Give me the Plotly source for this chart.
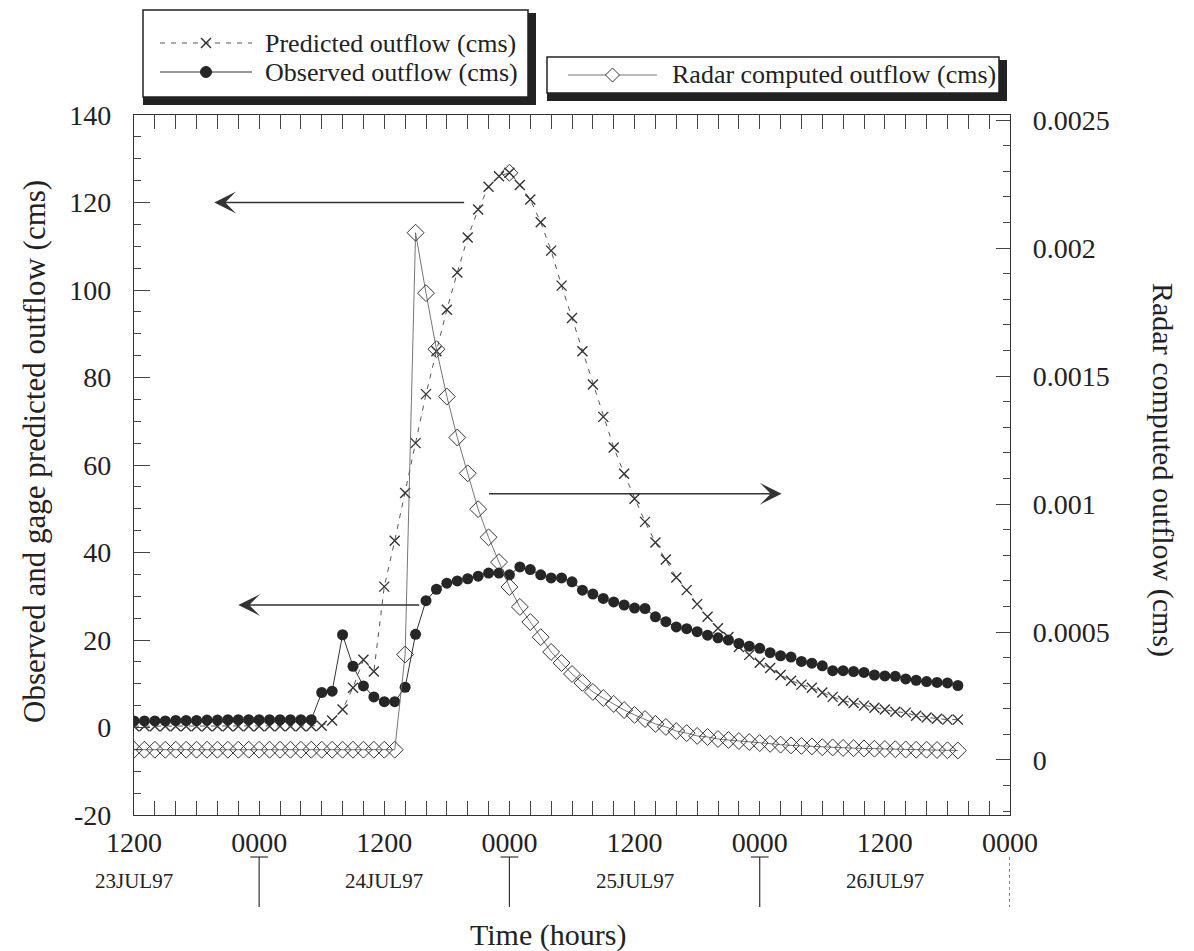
import plotly.graph_objects as go

# Hours after 1200 23JUL97
hours = list(range(80))

observed_cms = [
    1.5, 1.5, 1.5, 1.5, 1.6, 1.6, 1.6, 1.7, 1.7, 1.8,
    1.8, 1.8, 1.8, 1.8, 1.8, 1.8, 1.8, 1.8, 8.0, 8.3,
    21.2, 14.0, 9.5, 7.0, 5.9, 5.9, 9.2, 21.3, 29.0, 31.6,
    33.0, 33.5, 34.0, 34.6, 35.3, 35.3, 34.9, 36.7, 36.1, 34.9,
    34.2, 34.2, 33.3, 31.4, 30.5, 29.5, 28.7, 28.0, 27.3, 27.2,
    25.3, 24.2, 23.0, 22.6, 21.9, 21.1, 20.5, 20.0, 19.2, 18.6,
    18.1, 17.1, 16.4, 16.1, 15.1, 14.7, 14.1, 13.0, 13.0, 12.8,
    12.6, 12.0, 11.8, 11.7, 11.1, 10.8, 10.5, 10.3, 10.2, 9.6,
]

predicted_cms = [
    0.3, 0.3, 0.3, 0.3, 0.3, 0.3, 0.3, 0.3, 0.3, 0.3,
    0.3, 0.3, 0.3, 0.3, 0.3, 0.3, 0.3, 0.3, 0.4, 1.6,
    4.1, 9.1, 15.5, 12.8, 32.2, 42.7, 53.6, 65.0, 76.2, 86.0,
    95.5, 104.0, 112.0, 118.4, 123.6, 126.0, 126.8, 124.0, 120.7, 115.5,
    109.0, 101.0, 93.6, 86.0, 78.4, 71.0, 64.0, 58.0, 52.3, 47.0,
    42.3, 38.4, 34.3, 31.4, 28.2, 25.3, 22.7, 20.7, 18.4, 16.6,
    14.8, 13.6, 12.0, 10.7, 9.8, 9.1, 8.0, 7.0, 6.1, 5.6,
    5.0, 4.5, 4.1, 3.6, 3.4, 2.7, 2.3, 2.0, 1.8, 1.8,
]

radar_cms = [
    0.00004, 0.00004, 0.00004, 0.00004, 0.00004, 0.00004, 0.00004, 0.00004, 0.00004, 0.00004,
    0.00004, 0.00004, 0.00004, 0.00004, 0.00004, 0.00004, 0.00004, 0.00004, 0.00004, 0.00004,
    0.00004, 0.00004, 0.00004, 0.00004, 0.00004, 0.00004, 0.000412, 0.00206, 0.001824, 0.001605,
    0.00142, 0.00126, 0.00112, 0.00098, 0.00087, 0.000773, 0.000676, 0.000598, 0.000539, 0.00048,
    0.000422, 0.000379, 0.000336, 0.000301, 0.000266, 0.000242, 0.000219, 0.000195, 0.000176, 0.00016,
    0.000141, 0.000129, 0.000113, 0.000105, 0.000094, 0.00009, 0.000082, 0.000078, 0.000074, 0.00007,
    0.000066, 0.000063, 0.00006, 0.000057, 0.000055, 0.000053, 0.00005, 0.000049, 0.000047, 0.000046,
    0.000045, 0.000044, 0.000043, 0.000042, 0.000041, 0.00004, 0.00004, 0.000039, 0.000038, 0.000037,
]

series_names = ["Predicted outflow (cms)", "Observed outflow (cms)",
                "Radar computed outflow (cms)"]

# Time axis labelling: hour clock every 12 h, calendar day under each noon
clock_hours = [0, 12, 24, 36, 48, 60, 72, 84]
clock_labels = ["1200", "0000", "1200", "0000", "1200", "0000", "1200", "0000"]
day_hours = [0, 24, 48, 72]
day_labels = ["23JUL97", "24JUL97", "25JUL97", "26JUL97"]
midnight_hours = [12, 36, 60, 84]

flow_ticks = [-20, 0, 20, 40, 60, 80, 100, 120, 140]
flow_tick_labels = ["-20", "0", "20", "40", "60", "80", "100", "120", "140"]
radar_ticks = [0, 0.0005, 0.001, 0.0015, 0.002, 0.0025]
radar_tick_labels = ["0", "0.0005", "0.001", "0.0015", "0.002", "0.0025"]

SERIF = "Liberation Serif, Times New Roman, serif"
INK = "#222222"

# Figure geometry (px) used to place paper-referenced decorations
W, H = 1194, 951
ML, MR, MT, MB = 134, 184, 115, 136
PW, PH = W - ML - MR, H - MT - MB


def px_x(px):
    return (px - ML) / PW


def px_y(py):
    return (H - MB - py) / PH


PRED_LINE = dict(color="#555555", width=1, dash="5px,6px")
PRED_MARK = dict(symbol="x-thin-open", size=10, color="#333333",
                 line=dict(width=1.4, color="#333333"))
OBS_LINE = dict(color="#333333", width=1)
OBS_MARK = dict(symbol="circle", size=11, color="#262626")
RAD_LINE = dict(color="#666666", width=0.9)
RAD_MARK = dict(symbol="diamond-open", size=13, color="#333333",
                line=dict(width=1, color="#333333"))

fig = go.Figure()
fig.add_trace(go.Scatter(x=hours, y=predicted_cms, name=series_names[0],
                         mode="lines+markers", line=PRED_LINE, marker=PRED_MARK))
fig.add_trace(go.Scatter(x=hours, y=observed_cms, name=series_names[1],
                         mode="lines+markers", line=OBS_LINE, marker=OBS_MARK))
fig.add_trace(go.Scatter(x=hours, y=radar_cms, name=series_names[2], yaxis="y2",
                         mode="lines+markers", line=RAD_LINE, marker=RAD_MARK))

# open diamond flagging the crest of the predicted hydrograph
peak_i = max(range(len(predicted_cms)), key=lambda i: predicted_cms[i])
fig.add_trace(go.Scatter(x=[hours[peak_i]], y=[predicted_cms[peak_i]], mode="markers",
                         hoverinfo="skip", marker=RAD_MARK))

shapes = []
annotations = []

# legend frames with heavy drop shadow on the lower/right edges
for (x0, y0, x1, y1) in [(143, 10, 528, 97), (547, 57, 999, 93)]:
    shapes.append(dict(type="rect", xref="paper", yref="paper",
                       x0=px_x(x0), x1=px_x(x1 + 8), y0=px_y(y1 + 8), y1=px_y(y0 + 3),
                       fillcolor="#222222", line=dict(width=0), layer="above"))
    shapes.append(dict(type="rect", xref="paper", yref="paper",
                       x0=px_x(x0), x1=px_x(x1), y0=px_y(y1), y1=px_y(y0),
                       fillcolor="white", line=dict(color="#222222", width=1.5),
                       layer="above"))


def legend_row(x_line0, x_line1, x_text, y, line_style, marker, name):
    xm = (x_line0 + x_line1) / 2
    shapes.append(dict(type="line", xref="paper", yref="paper",
                       x0=px_x(x_line0), x1=px_x(x_line1), y0=px_y(y), y1=px_y(y),
                       line=dict(color=line_style["color"], width=line_style["width"],
                                 dash=line_style.get("dash", "solid")), layer="above"))
    r = 5.5
    if marker == "x":
        for s in (1, -1):
            shapes.append(dict(type="line", xref="paper", yref="paper",
                               x0=px_x(xm - 5), x1=px_x(xm + 5),
                               y0=px_y(y - 5 * s), y1=px_y(y + 5 * s),
                               line=dict(color="#333333", width=1.4), layer="above"))
    elif marker == "circle":
        shapes.append(dict(type="circle", xref="paper", yref="paper",
                           x0=px_x(xm - r), x1=px_x(xm + r), y0=px_y(y + r), y1=px_y(y - r),
                           fillcolor="#262626", line=dict(color="#262626", width=1),
                           layer="above"))
    else:
        d = 7
        path = "M {a},{b} L {c},{e} L {f},{b} L {c},{g} Z".format(
            a=px_x(xm - d), b=px_y(y), c=px_x(xm), e=px_y(y - d),
            f=px_x(xm + d), g=px_y(y + d))
        shapes.append(dict(type="path", xref="paper", yref="paper", path=path,
                           fillcolor="white", line=dict(color="#333333", width=1),
                           layer="above"))
    annotations.append(dict(x=px_x(x_text), y=px_y(y), xref="paper", yref="paper",
                            text=name, showarrow=False, xanchor="left", yanchor="middle",
                            font=dict(family=SERIF, size=26, color=INK)))


legend_row(160, 252, 263, 43, PRED_LINE, "x", series_names[0])
legend_row(160, 252, 263, 72, OBS_LINE, "circle", series_names[1])
legend_row(568, 657, 670, 75, RAD_LINE, "diamond", series_names[2])

# day separators below the time axis
for h in midnight_hours:
    last = h == midnight_hours[-1]
    shapes.append(dict(type="line", xref="x", yref="paper", x0=h, x1=h,
                       y0=px_y(857), y1=px_y(907),
                       line=dict(color="#333333", width=1.2,
                                 dash="dot" if last else "solid")))
    if not last:
        shapes.append(dict(type="line", xref="x", yref="paper",
                           x0=h - 0.85, x1=h + 0.85, y0=px_y(857), y1=px_y(857),
                           line=dict(color="#333333", width=1.2)))

for h, lab in zip(day_hours, day_labels):
    annotations.append(dict(x=h, y=px_y(881), xref="x", yref="paper", text=lab,
                            xanchor="center", yanchor="middle", showarrow=False,
                            font=dict(family=SERIF, size=21, color=INK)))

annotations.append(dict(x=px_x(548), y=px_y(935), xref="paper", yref="paper",
                        text="Time (hours)", showarrow=False,
                        xanchor="center", yanchor="middle",
                        font=dict(family=SERIF, size=30, color=INK)))
annotations.append(dict(x=px_x(34), y=px_y(452), xref="paper", yref="paper",
                        text="Observed and gage predicted outflow (cms)", textangle=-90,
                        xanchor="center", yanchor="middle", showarrow=False,
                        font=dict(family=SERIF, size=31, color=INK)))
annotations.append(dict(x=px_x(1163), y=px_y(470), xref="paper", yref="paper",
                        text="Radar computed outflow (cms)", textangle=90,
                        xanchor="center", yanchor="middle", showarrow=False,
                        font=dict(family=SERIF, size=30, color=INK)))

# arrows pointing each curve to the axis it is read against
arrow_style = dict(showarrow=True, arrowhead=3, arrowsize=2.6, arrowwidth=1.4,
                   arrowcolor="#333333", text="", standoff=0)
annotations.append(dict(x=7.7, y=120, ax=31.8, ay=120, xref="x", yref="y",
                        axref="x", ayref="y", **arrow_style))
annotations.append(dict(x=62.1, y=0.00104, ax=33.9, ay=0.00104, xref="x", yref="y2",
                        axref="x", ayref="y2", **arrow_style))
annotations.append(dict(x=10.0, y=28, ax=27.5, ay=28, xref="x", yref="y",
                        axref="x", ayref="y", **arrow_style))

tick_font = dict(family=SERIF, size=28, color=INK)
axis_line = dict(showline=True, linecolor="#333333", linewidth=1.2,
                 showgrid=False, zeroline=False)

fig.update_layout(
    width=W, height=H, autosize=False, showlegend=False,
    margin=dict(l=ML, r=MR, t=MT, b=MB),
    paper_bgcolor="white", plot_bgcolor="white",
    font=dict(family=SERIF, color=INK),
    xaxis=dict(
        range=[0, 84], tickmode="array", tickvals=list(range(0, 85, 6)),
        ticktext=[clock_labels[clock_hours.index(v)] if v in clock_hours else ""
                  for v in range(0, 85, 6)],
        ticks="inside", ticklen=14, tickcolor="#444444", tickwidth=1,
        mirror="allticks", tickfont=tick_font, ticklabelstandoff=2,
        minor=dict(tickmode="linear", tick0=0, dtick=2, ticks="inside",
                   ticklen=7, tickcolor="#444444"),
        **axis_line,
    ),
    yaxis=dict(
        range=[-20, 140], tickmode="array", tickvals=flow_ticks,
        ticktext=flow_tick_labels,
        ticks="inside", ticklen=16, tickcolor="#444444", tickwidth=1.2,
        tickfont=tick_font, ticklabelstandoff=16,
        minor=dict(tickmode="linear", tick0=0, dtick=5, ticks="inside",
                   ticklen=7, tickcolor="#444444"),
        **axis_line,
    ),
    yaxis2=dict(
        range=[-0.000215, 0.00252], overlaying="y", side="right",
        tickmode="array", tickvals=radar_ticks, ticktext=radar_tick_labels,
        ticks="inside", ticklen=14, tickcolor="#444444", tickwidth=1.2,
        tickfont=tick_font, ticklabelstandoff=16,
        minor=dict(tickmode="linear", tick0=0, dtick=0.0001, ticks="inside",
                   ticklen=7, tickcolor="#444444"),
        **axis_line,
    ),
    shapes=shapes,
    annotations=annotations,
)

fig.write_html("out.html")
